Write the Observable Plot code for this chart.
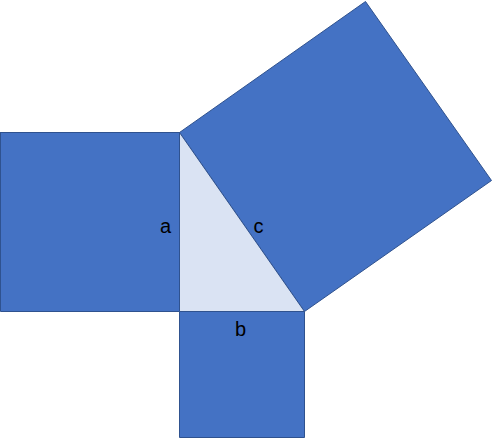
<!DOCTYPE html>
<html>
<head>
<meta charset="utf-8">
<script src="https://cdn.jsdelivr.net/npm/d3@7"></script>
<script src="https://cdn.jsdelivr.net/npm/@observablehq/plot@0.6"></script>
<style>body{margin:0;background:#fff}</style>
</head>
<body>
<div id="chart"></div>
<script>
// triangle vertices (picture units) and the three squares on its sides
const triangle = [[179, 132], [179, 311], [304, 311]];
const squareA = [[0, 132], [179, 132], [179, 311], [0, 311]];
const squareB = [[179, 311], [304, 311], [304, 437], [179, 437]];
const squareC = [[179, 132], [365, 1], [491, 180], [304, 311]];
const sideLabels = [["a", 165, 226], ["c", 258, 226], ["b", 240, 329]];

const shapes = [
  ...squareA.map(p => ({shape: "A", x: p[0], y: p[1]})),
  ...squareB.map(p => ({shape: "B", x: p[0], y: p[1]})),
  ...squareC.map(p => ({shape: "C", x: p[0], y: p[1]}))
];
const tri = triangle.map(p => ({x: p[0], y: p[1]}));
const close = arr => [...arr, arr[0]];

const chart = Plot.plot({
  width: 493,
  height: 438,
  margin: 0,
  x: {domain: [0, 493], axis: null},
  y: {domain: [438, 0], axis: null},
  marks: [
    ...["A", "B", "C"].map(s =>
      Plot.line(close(shapes.filter(d => d.shape === s)), {x: "x", y: "y", fill: "#4472C4", stroke: "#2F528F", strokeWidth: 1})
    ),
    Plot.line(close(tri), {x: "x", y: "y", fill: "#DAE3F3", stroke: "#2F528F", strokeWidth: 1}),
    Plot.text(sideLabels, {x: d => d[1], y: d => d[2], text: d => d[0], fontSize: 20, fill: "#000", fontFamily: "Liberation Sans"})
  ]
});
document.getElementById("chart").append(chart);
</script>
</body>
</html>
